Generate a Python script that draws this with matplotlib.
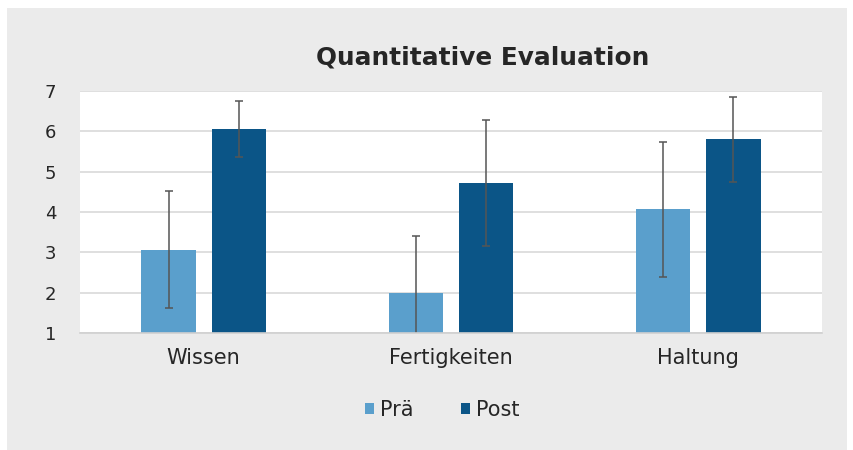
import matplotlib
matplotlib.use("Agg")
import matplotlib.pyplot as plt
import numpy as np
from matplotlib.patches import Rectangle

plt.rcParams['font.family'] = ['DejaVu Sans']

categories = ["Wissen", "Fertigkeiten", "Haltung"]
pre_values = [3.07, 2.0, 4.07]
pre_errors = [1.45, 1.40, 1.67]
post_values = [6.06, 4.72, 5.80]
post_errors = [0.69, 1.57, 1.05]
series_names = ["Prä", "Post"]
yticks = [1, 2, 3, 4, 5, 6, 7]

pre_color = "#5A9FCC"
post_color = "#0B5587"
bg = "#EBEBEB"
err_color = "#555555"
txt = "#262626"

fig = plt.figure(figsize=(8.54, 4.5), dpi=100, facecolor="white")
fig.patches.append(Rectangle((7/854, 0), 840/854, 442/450, transform=fig.transFigure,
                             facecolor=bg, edgecolor="none", zorder=-10))

ax = fig.add_axes([80/854, (450-333)/450, 742/854, 242/450])
ax.set_facecolor("white")

x = np.arange(len(categories))
w = 0.22
off = 0.142
ekw = dict(ecolor=err_color, elinewidth=1.1, capsize=3, capthick=1.1)
ax.bar(x - off, pre_values, w, color=pre_color, label=series_names[0], zorder=2,
       yerr=pre_errors, error_kw=ekw)
ax.bar(x + off, post_values, w, color=post_color, label=series_names[1], zorder=2,
       yerr=post_errors, error_kw=ekw)

ax.set_xlim(-0.5, len(categories) - 0.5)
ax.set_ylim(1, 7)
ax.set_yticks(yticks)
ax.set_xticks(x)
ax.set_xticklabels(categories)
ax.grid(axis="y", color="#D9D9D9", linewidth=1.2, zorder=0)
ax.set_axisbelow(True)
for s in ["top", "right", "left"]:
    ax.spines[s].set_visible(False)
ax.spines["bottom"].set_color("#D0D0D0")
ax.spines["bottom"].set_linewidth(1.2)
ax.tick_params(axis="both", length=0, colors=txt)
ax.tick_params(axis="y", pad=17, labelsize=13)
ax.tick_params(axis="x", pad=11, labelsize=15)

fig.text(483/854, 1 - 57/450, "Quantitative Evaluation", ha="center", va="center",
         fontsize=17.8, fontweight="bold", color=txt)

fig.legend(loc="center", bbox_to_anchor=(442/854, 1 - 410/450), ncol=2, frameon=False,
           fontsize=15, handlelength=0.45, handleheight=0.45, columnspacing=2.3,
           handletextpad=0.25, labelcolor=txt)

fig.savefig("out.png", dpi=100, facecolor="white")
